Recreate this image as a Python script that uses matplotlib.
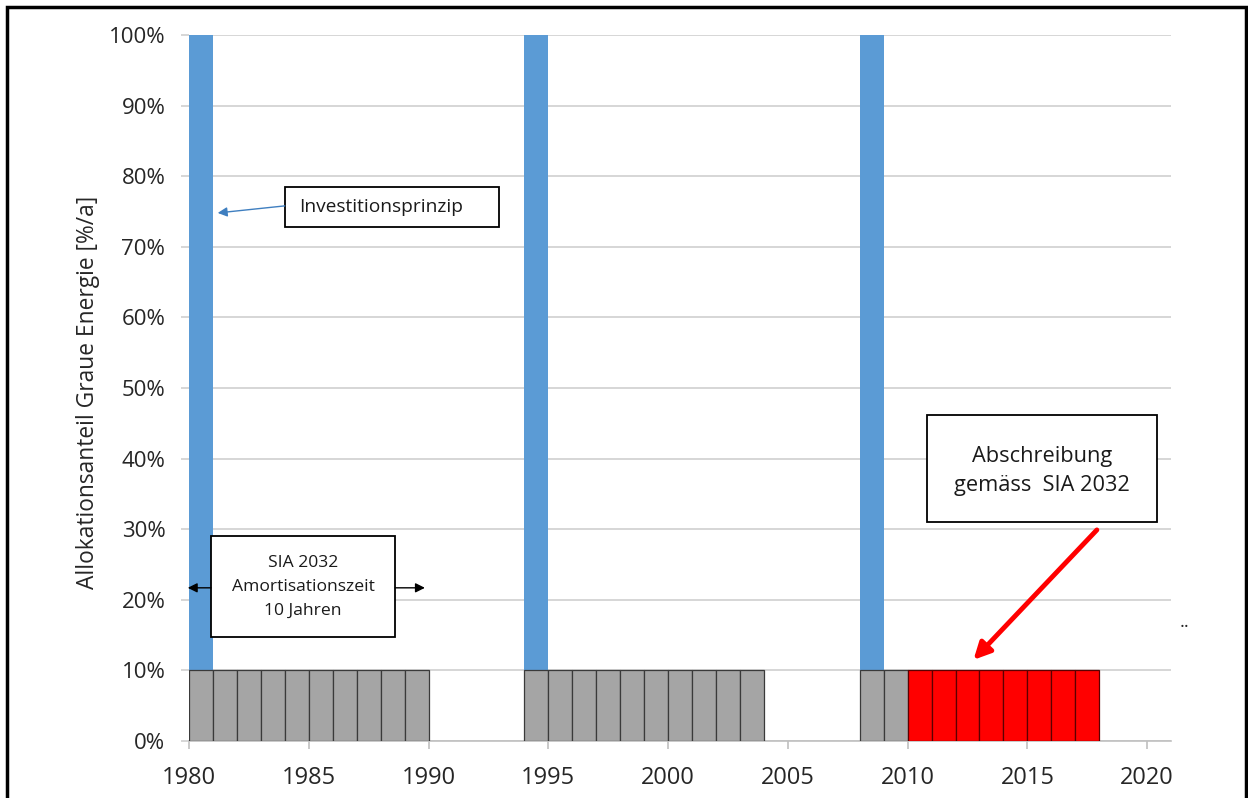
import matplotlib
matplotlib.use('Agg')
import matplotlib.pyplot as plt
from matplotlib.patches import Rectangle
from matplotlib.ticker import PercentFormatter

plt.rcParams['font.family'] = ['Open Sans', 'DejaVu Sans']

# Investitionsprinzip: full allocation in year of construction / renovation
invest_years = [1980, 1994, 2008]
invest_share = [100, 100, 100]

# SIA 2032 amortisation, 10% per year
grey_years = [1980, 1981, 1982, 1983, 1984, 1985, 1986, 1987, 1988, 1989,
              1994, 1995, 1996, 1997, 1998, 1999, 2000, 2001, 2002, 2003,
              2008, 2009]
grey_share = [10, 10, 10, 10, 10, 10, 10, 10, 10, 10,
              10, 10, 10, 10, 10, 10, 10, 10, 10, 10,
              10, 10]
red_years = [2010, 2011, 2012, 2013, 2014, 2015, 2016, 2017]
red_share = [10, 10, 10, 10, 10, 10, 10, 10]

x_ticks = [1980, 1985, 1990, 1995, 2000, 2005, 2010, 2015, 2020]
y_ticks = [0, 10, 20, 30, 40, 50, 60, 70, 80, 90, 100]

fig = plt.figure(figsize=(12.48, 7.98), dpi=100)
ax = fig.add_axes([0.1514, 0.0714, 0.787, 0.8847])

ax.bar(invest_years, invest_share, width=1, align='edge', color='#5b9bd5',
       edgecolor='#5b9bd5', linewidth=0, zorder=3)
ax.bar(grey_years, grey_share, width=1, align='edge', color='#a5a5a5',
       edgecolor='#3a3a3a', linewidth=0.9, zorder=4)
ax.bar(red_years, red_share, width=1, align='edge', color='#ff0000',
       edgecolor='#5a0000', linewidth=0.9, zorder=4)

ax.set_xlim(1980, 2021)
ax.set_ylim(0, 100)
ax.set_xticks(x_ticks)
ax.set_yticks(y_ticks)
ax.yaxis.set_major_formatter(PercentFormatter(decimals=0))
ax.grid(axis='y', color='#d0d0d0', linewidth=1.2, zorder=0)
ax.set_axisbelow(True)
for s in ['top', 'right', 'left']:
    ax.spines[s].set_visible(False)
ax.spines['bottom'].set_color('#c0c0c0')
ax.spines['bottom'].set_linewidth(1.2)
ax.tick_params(axis='y', length=6, color='#d0d0d0', width=1.2, pad=11,
               labelsize=16, labelcolor='#262626')
ax.tick_params(axis='x', length=6, color='#c0c0c0', width=1.2, pad=12,
               labelsize=17, labelcolor='#262626')

fig.text(88 / 1248, 1 - 392 / 798, 'Allokationsanteil Graue Energie [%/a]',
         rotation=90, ha='center', va='center', fontsize=16.4, color='#262626')


def add_box(x0, x1, y0, y1):
    ax.add_patch(Rectangle((x0, y0), x1 - x0, y1 - y0, facecolor='white',
                           edgecolor='black', linewidth=1.3, zorder=6, clip_on=False))


def add_arrow(start, tip, color, lw, size):
    ax.annotate('', xy=tip, xytext=start, zorder=7, annotation_clip=False,
                arrowprops=dict(arrowstyle='-|>', color=color, lw=lw,
                                mutation_scale=size, shrinkA=0, shrinkB=0))


# Investitionsprinzip
add_box(1984.0, 1992.95, 72.8, 78.5)
ax.text(1984.6, 75.6, 'Investitionsprinzip', fontsize=13.8, ha='left',
        va='center', zorder=8, color='#1a1a1a')
add_arrow((1984.0, 75.8), (1981.2, 74.8), '#3f7fc0', 1.0, 14)

# SIA 2032 Amortisationszeit
add_box(1980.92, 1988.61, 14.7, 29.0)
ax.text(1984.77, 21.8, 'SIA 2032\nAmortisationszeit\n10 Jahren', fontsize=12.6,
        ha='center', va='center', linespacing=1.65, zorder=8, color='#1a1a1a')
add_arrow((1980.92, 21.7), (1979.95, 21.7), 'black', 1.0, 14)
add_arrow((1988.61, 21.7), (1989.85, 21.7), 'black', 1.0, 14)

# Abschreibung gemäss SIA 2032
add_box(2010.8, 2020.4, 31.0, 46.2)
ax.text(2015.6, 38.2, 'Abschreibung\ngemäss  SIA 2032', fontsize=15.7,
        ha='center', va='center', linespacing=1.5, zorder=8, color='#1a1a1a')
add_arrow((2017.9, 29.9), (2012.75, 11.5), '#ff0000', 3.5, 25)

ax.text(2021.55, 16.8, '..', fontsize=13, ha='center', va='center', color='#262626')

# outer frame as in the source image
frame = Rectangle((7 / 1248, -0.05), (1246 - 7) / 1248, 1.05 - 7 / 798,
                  transform=fig.transFigure, fill=False, edgecolor='black',
                  linewidth=2.5, clip_on=False)
fig.patches.append(frame)

fig.savefig('out.png', dpi=100)
